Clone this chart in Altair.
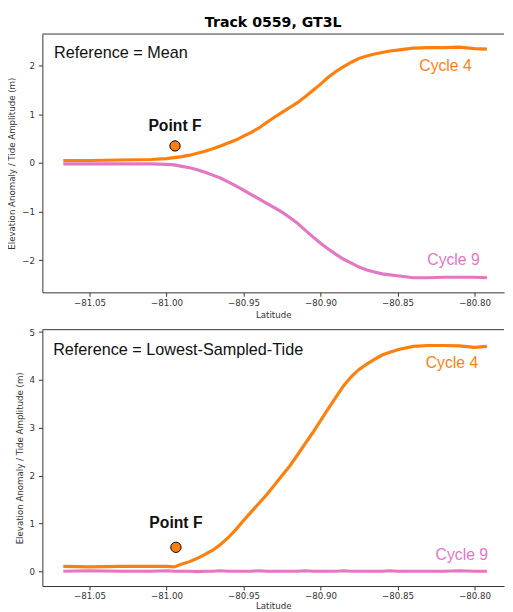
import altair as alt
import pandas as pd

# ---------------- data ----------------
lat = [-81.067, -81.05, -81.03, -81.01, -81.00, -80.995, -80.99, -80.985, -80.98, -80.975,
       -80.97, -80.965, -80.96, -80.955, -80.95, -80.945, -80.94, -80.935, -80.93, -80.925,
       -80.92, -80.915, -80.91, -80.905, -80.90, -80.895, -80.89, -80.885, -80.88, -80.875,
       -80.87, -80.865, -80.86, -80.855, -80.85, -80.84, -80.83, -80.82, -80.81, -80.80, -80.792]

mean_c4 = [0.05, 0.05, 0.06, 0.07, 0.09, 0.11, 0.13, 0.16, 0.20, 0.24,
           0.29, 0.35, 0.41, 0.47, 0.55, 0.63, 0.72, 0.83, 0.94, 1.04,
           1.14, 1.24, 1.36, 1.49, 1.62, 1.76, 1.88, 1.98, 2.07, 2.15,
           2.20, 2.24, 2.27, 2.30, 2.32, 2.36, 2.37, 2.37, 2.38, 2.35, 2.34]
mean_c9 = [-0.02, -0.02, -0.02, -0.02, -0.03, -0.04, -0.07, -0.10, -0.14, -0.19,
           -0.25, -0.31, -0.39, -0.47, -0.56, -0.65, -0.74, -0.83, -0.92, -1.01,
           -1.12, -1.24, -1.38, -1.52, -1.65, -1.77, -1.88, -1.98, -2.06, -2.14,
           -2.20, -2.24, -2.28, -2.30, -2.32, -2.36, -2.36, -2.35, -2.35, -2.35, -2.36]
low_c4 = [0.10, 0.09, 0.10, 0.10, 0.10, 0.09, 0.15, 0.20, 0.27, 0.35,
          0.44, 0.56, 0.70, 0.87, 1.06, 1.24, 1.42, 1.60, 1.80, 2.00,
          2.20, 2.43, 2.67, 2.90, 3.15, 3.40, 3.64, 3.88, 4.07, 4.22,
          4.33, 4.43, 4.52, 4.58, 4.63, 4.70, 4.72, 4.72, 4.71, 4.68, 4.70]
low_c9 = [0.00, 0.01, 0.00, 0.00, 0.01, 0.00, 0.00, 0.00, -0.01, 0.00,
          0.00, 0.01, 0.00, 0.00, 0.00, 0.00, 0.01, 0.00, 0.00, 0.00,
          0.00, 0.00, 0.01, 0.00, 0.00, 0.00, 0.00, 0.01, 0.00, 0.00,
          0.00, 0.00, 0.00, 0.01, 0.00, 0.00, 0.00, 0.00, 0.01, 0.00, 0.00]

series = ["Cycle 4", "Cycle 9"]
colors = ["#ff7f0e", "#e377c2"]

x_ticks = [-81.05, -81.00, -80.95, -80.90, -80.85, -80.80]
top_y_ticks = [-2, -1, 0, 1, 2]
bot_y_ticks = [0, 1, 2, 3, 4, 5]

# Point F markers (lat, value)
pf_lat = [-80.9945, -80.9939]
pf_val = [0.35, 0.50]

# annotation anchors (lat, value)
ref_text = ["Reference = Mean", "Reference = Lowest-Sampled-Tide"]
ref_lat = [-81.073, -81.0736]
ref_val = [2.25, 4.63]
pflabel_val = [0.75, 1.00]
c4_lat = [-80.8019, -80.7977]
c4_val = [2.00, 4.36]
c9_lat = [-80.7967, -80.7913]
c9_val = [-2.00, 0.33]

X_DOMAIN = [-81.0806, -80.7809]
TOP_Y_DOMAIN = [-2.66, 2.65]
BOT_Y_DOMAIN = [-0.31, 5.05]

LABEL_FONT = "DejaVu Sans"
ANN_FONT = "Liberation Sans"
SPINE = "#333333"


def panel(c4, c9, ytick_vals, ydom, idx, height, xtitle_pad, title=None):
    df = pd.DataFrame({
        "lat": lat * 2,
        "val": c4 + c9,
        "series": [series[0]] * len(lat) + [series[1]] * len(lat),
    })
    xscale = alt.Scale(domain=X_DOMAIN, nice=False, zero=False)
    yscale = alt.Scale(domain=ydom, nice=False, zero=False)
    xenc = alt.X("lat:Q", scale=xscale,
                 axis=alt.Axis(values=x_ticks, format=".2f", title="Latitude",
                               titlePadding=xtitle_pad))
    yenc = alt.Y("val:Q", scale=yscale,
                 axis=alt.Axis(values=ytick_vals, format="d",
                               title="Elevation Anomaly / Tide Amplitude (m)"))

    lines = alt.Chart(df).mark_line(strokeWidth=3.2, clip=True).encode(
        x=xenc, y=yenc,
        color=alt.Color("series:N", scale=alt.Scale(domain=series, range=colors), legend=None),
        detail="series:N",
    )
    # top frame line at the upper end of the y domain
    top_df = pd.DataFrame({"val": [ydom[1]]})
    frame = alt.Chart(top_df).mark_rule(color=SPINE, strokeWidth=1).encode(
        y=alt.Y("val:Q", scale=yscale)
    )
    pt_df = pd.DataFrame({"lat": [pf_lat[idx]], "val": [pf_val[idx]]})
    point = alt.Chart(pt_df).mark_point(filled=True, size=110, fill="#ff7f0e",
                                        stroke="#000000", strokeWidth=1, opacity=1).encode(x=xenc, y=yenc)

    ref_df = pd.DataFrame({"lat": [ref_lat[idx]], "val": [ref_val[idx]], "t": [ref_text[idx]]})
    ref = alt.Chart(ref_df).mark_text(font=ANN_FONT, fontSize=16.5, align="left", baseline="middle",
                                      color="#111111").encode(x=xenc, y=yenc, text="t:N")

    pfl_df = pd.DataFrame({"lat": [pf_lat[idx]], "val": [pflabel_val[idx]], "t": ["Point F"]})
    pfl = alt.Chart(pfl_df).mark_text(font=ANN_FONT, fontSize=16, fontWeight="bold", align="center",
                                      baseline="middle", color="#111111").encode(x=xenc, y=yenc, text="t:N")

    c4_df = pd.DataFrame({"lat": [c4_lat[idx]], "val": [c4_val[idx]], "t": [series[0]]})
    c4t = alt.Chart(c4_df).mark_text(font=ANN_FONT, fontSize=16, align="right", baseline="middle",
                                     color=colors[0]).encode(x=xenc, y=yenc, text="t:N")
    c9_df = pd.DataFrame({"lat": [c9_lat[idx]], "val": [c9_val[idx]], "t": [series[1]]})
    c9t = alt.Chart(c9_df).mark_text(font=ANN_FONT, fontSize=16, align="right", baseline="middle",
                                     color=colors[1]).encode(x=xenc, y=yenc, text="t:N")

    props = dict(width=470, height=height)
    if title is not None:
        props["title"] = title
    return alt.layer(lines, frame, point, ref, pfl, c4t, c9t).properties(**props)


title = alt.TitleParams("Track 0559, GT3L", font=LABEL_FONT, fontSize=14.4, fontWeight="bold",
                        anchor="middle", frame="group", offset=3, color="#000000")

top = panel(mean_c4, mean_c9, top_y_ticks, TOP_Y_DOMAIN, 0, 263, 4, title=title)
bottom = panel(low_c4, low_c9, bot_y_ticks, BOT_Y_DOMAIN, 1, 261, 1)

chart = alt.vconcat(top, bottom, spacing=8).properties(
    padding={"left": 0, "top": 2, "right": 0, "bottom": 0}
).configure_view(
    strokeWidth=0, strokeOpacity=0
).configure_axis(
    grid=False,
    labelFont=LABEL_FONT, labelFontSize=8.8, labelColor="#333333",
    titleFont=LABEL_FONT, titleFontSize=8.8, titleColor="#333333", titleFontWeight="normal",
    domainColor=SPINE, tickColor=SPINE, tickSize=4, domainWidth=1,
).configure_axisX(
    labelPadding=2,
).configure_axisY(
    labelPadding=4, titlePadding=5,
)

chart.save("out.html", embed_options={"renderer": "svg", "actions": False})
